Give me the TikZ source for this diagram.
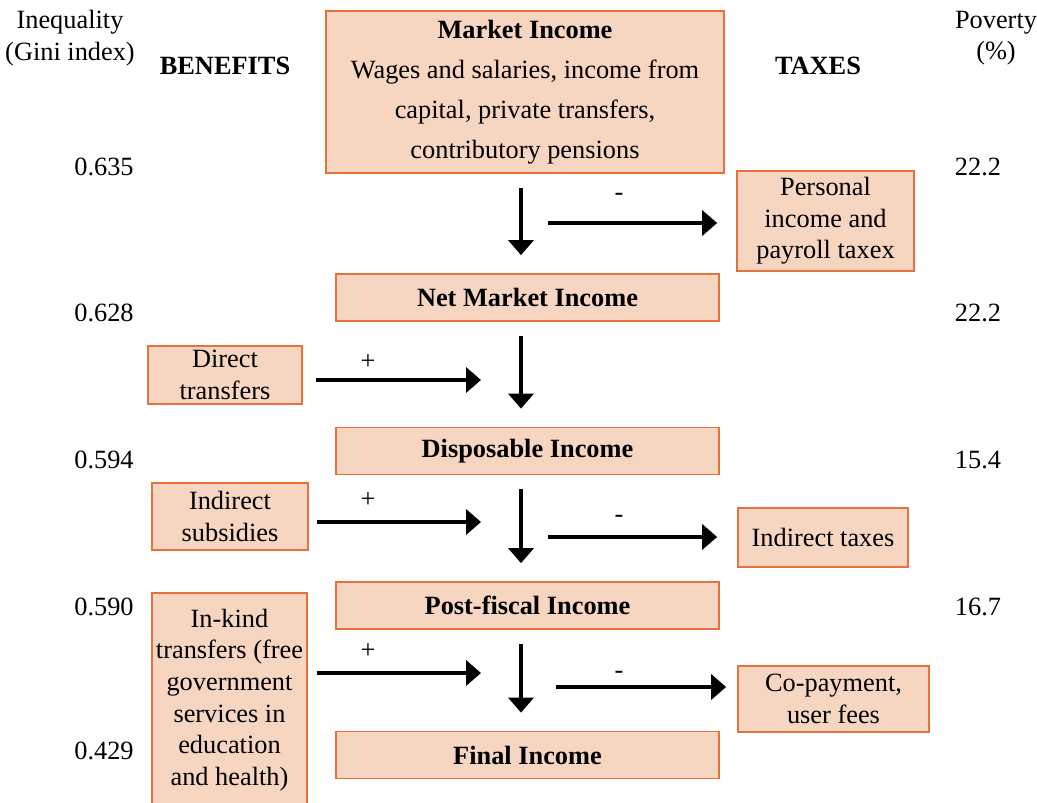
\documentclass[tikz,border=0pt]{standalone}
\usepackage{fontspec}
\setmainfont{Liberation Serif}
\usetikzlibrary{arrows.meta,calc}
\definecolor{boxfill}{HTML}{F6D5C1}
\definecolor{boxline}{HTML}{E5713D}

\tikzset{
  income/.style={draw=boxline, fill=boxfill, line width=1pt, font=\fontsize{15}{18}\selectfont\bfseries, minimum width=7.66cm, minimum height=0.94cm},
  source/.style={draw=boxline, fill=boxfill, line width=1pt, font=\fontsize{15}{18}\selectfont, align=center, inner sep=0pt},
  flow/.style={-{Triangle[length=0.3cm,width=0.5cm]}, line width=2.2pt},
  sign/.style={font=\fontsize{15}{18}\selectfont},
}

\begin{document}
\begin{tikzpicture}[x=0.02cm, y=-0.02cm]
  \useasboundingbox (0,0) rectangle (1037,803);

  % Headers
  \node[sign, align=center] (ineq) at (70,38) {Inequality\\(Gini index)};
  \node[sign, align=center] (pov) at (996,38) {Poverty\\(\%)};
  \node[sign, font=\fontsize{15}{18}\selectfont\bfseries] (ben) at (225,66) {BENEFITS};
  \node[sign, font=\fontsize{15}{18}\selectfont\bfseries] (tax) at (818,66) {TAXES};

  % Income concepts
  \node[income, minimum width=7.96cm, minimum height=3.24cm, align=center, font=\fontsize{15}{22.7}\selectfont] (mi) at (525,92)
    {\textbf{Market Income}\\Wages and salaries, income from\\capital, private transfers,\\contributory pensions};
  \node[income] (nmi) at (527.5,297.5) {Net Market Income};
  \node[income] (dis) at (527.5,451) {Disposable Income};
  \node[income] (post) at (527.5,605.5) {Post-fiscal Income};
  \node[income] (fin) at (527.5,755) {Final Income};

  % Benefits and taxes
  \node[source, minimum width=3.54cm, minimum height=2cm] (ptax) at (825.5,221) {Personal\\income and\\payroll taxex};
  \node[source, minimum width=3.08cm, minimum height=1.16cm] (dtr) at (225,375) {Direct\\transfers};
  \node[source, minimum width=3.12cm, minimum height=1.34cm] (isub) at (230,516.5) {Indirect\\subsidies};
  \node[source, minimum width=3.4cm, minimum height=1.18cm] (itax) at (823,537.5) {Indirect taxes};
  \node[source, minimum width=3.1cm, minimum height=4.28cm] (kind) at (229.5,700) {In-kind\\transfers (free\\government\\services in\\education\\and health)};
  \node[source, minimum width=3.82cm, minimum height=1.32cm] (copay) at (833.5,699) {Co-payment,\\user fees};

  % Gini and poverty values
  \foreach \v/\y [count=\i] in {0.635/167, 0.628/313, 0.594/460, 0.590/607, 0.429/751}
    \node[sign] (gini\i) at (104,\y) {\v};
  \foreach \v/\y [count=\i] in {22.2/167, 22.2/313, 15.4/460, 16.7/607}
    \node[sign] (povv\i) at (978,\y) {\v};

  % Main flow
  \foreach \a/\b in {mi/nmi, nmi/dis, dis/post, post/fin}
    \draw[flow, shorten <=0.28cm, shorten >=0.36cm] ([xshift=-0.13cm]\b.north |- \a.south) -- ([xshift=-0.13cm]\b.north);

  % Benefits in
  \coordinate (b1) at (481,380);
  \coordinate (b2) at (481,522);
  \coordinate (b3) at (481,673);
  \draw[flow, shorten <=0.26cm] (dtr.east |- b1) -- (b1);
  \draw[flow, shorten <=0.16cm] (isub.east |- b2) -- (b2);
  \draw[flow, shorten <=0.18cm] (kind.east |- b3) -- (b3);
  \node[sign] (p1) at (368,362) {+};
  \node[sign] (p2) at (368,500) {+};
  \node[sign] (p3) at (368,651) {+};

  % Taxes out
  \coordinate (t1) at (548,223);
  \coordinate (t2) at (548,537);
  \coordinate (t3) at (556,687);
  \draw[flow, shorten >=0.38cm] (t1) -- (ptax.west |- t1);
  \draw[flow, shorten >=0.4cm] (t2) -- (itax.west |- t2);
  \draw[flow, shorten >=0.22cm] (t3) -- (copay.west |- t3);
  \node[sign] (m1) at (619,197) {-};
  \node[sign] (m2) at (619,519) {-};
  \node[sign] (m3) at (619,675) {-};
\end{tikzpicture}
\end{document}
